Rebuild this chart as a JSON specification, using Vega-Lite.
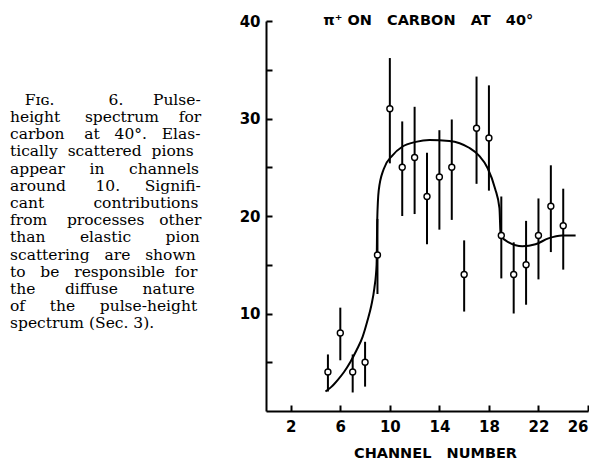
{
  "$schema": "https://vega.github.io/schema/vega-lite/v6.json",
  "background": "white",
  "padding": {"left": 10, "top": 13, "right": 0, "bottom": 0},
  "bounds": "flush",
  "spacing": 56,
  "config": {"view": {"stroke": null}, "font": "DejaVu Sans"},
  "datasets": {
    "caption": [
      {"line": 1, "text": "\u200b\u00a0\u00a0\u00a0Fɪɢ.\u00a0\u00a0\u00a0\u00a0\u00a0\u00a0\u00a0\u00a0\u00a0\u00a0\u00a06.\u00a0\u00a0\u00a0\u00a0\u00a0\u00a0Pulse-"},
      {"line": 2, "text": "height\u00a0\u00a0\u00a0\u00a0\u00a0spectrum\u00a0\u00a0\u00a0\u00a0for"},
      {"line": 3, "text": "carbon\u00a0\u00a0\u00a0\u00a0at\u00a0\u00a0\u00a040°.\u00a0\u00a0\u00a0Elas-"},
      {"line": 4, "text": "tically\u00a0\u00a0scattered\u00a0\u00a0pions"},
      {"line": 5, "text": "appear\u00a0\u00a0\u00a0\u00a0\u00a0in\u00a0\u00a0\u00a0\u00a0\u00a0channels"},
      {"line": 6, "text": "around\u00a0\u00a0\u00a0\u00a0\u00a0\u00a010.\u00a0\u00a0\u00a0\u00a0\u00a0Signifi-"},
      {"line": 7, "text": "cant\u00a0\u00a0\u00a0\u00a0\u00a0\u00a0\u00a0\u00a0\u00a0\u00a0contributions"},
      {"line": 8, "text": "from\u00a0\u00a0\u00a0\u00a0processes\u00a0\u00a0\u00a0other"},
      {"line": 9, "text": "than\u00a0\u00a0\u00a0\u00a0\u00a0\u00a0\u00a0elastic\u00a0\u00a0\u00a0\u00a0\u00a0\u00a0\u00a0pion"},
      {"line": 10, "text": "scattering\u00a0\u00a0\u00a0are\u00a0\u00a0\u00a0shown"},
      {"line": 11, "text": "to\u00a0\u00a0\u00a0be\u00a0\u00a0\u00a0responsible\u00a0\u00a0for"},
      {"line": 12, "text": "the\u00a0\u00a0\u00a0\u00a0\u00a0\u00a0diffuse\u00a0\u00a0\u00a0\u00a0\u00a0nature"},
      {"line": 13, "text": "of\u00a0\u00a0\u00a0\u00a0\u00a0the\u00a0\u00a0\u00a0\u00a0\u00a0pulse-height"},
      {"line": 14, "text": "spectrum (Sec. 3)."}
    ],
    "points": [
      {"channel": 5, "count": 4, "lo": 2.0, "hi": 5.8},
      {"channel": 6, "count": 8, "lo": 5.2, "hi": 10.6},
      {"channel": 7, "count": 4, "lo": 1.9, "hi": 5.8},
      {"channel": 8, "count": 5, "lo": 2.5, "hi": 7.1},
      {"channel": 9, "count": 16, "lo": 12.0, "hi": 19.7},
      {"channel": 10, "count": 31, "lo": 25.4, "hi": 36.2},
      {"channel": 11, "count": 25, "lo": 20.0, "hi": 29.7},
      {"channel": 12, "count": 26, "lo": 20.2, "hi": 31.2},
      {"channel": 13, "count": 22, "lo": 17.1, "hi": 26.5},
      {"channel": 14, "count": 24, "lo": 18.6, "hi": 28.8},
      {"channel": 15, "count": 25, "lo": 19.6, "hi": 29.9},
      {"channel": 16, "count": 14, "lo": 10.2, "hi": 17.5},
      {"channel": 17, "count": 29, "lo": 23.3, "hi": 34.3},
      {"channel": 18, "count": 28, "lo": 22.6, "hi": 33.4},
      {"channel": 19, "count": 18, "lo": 13.6, "hi": 22.0},
      {"channel": 20, "count": 14, "lo": 10.0, "hi": 17.3},
      {"channel": 21, "count": 15, "lo": 10.9, "hi": 19.5},
      {"channel": 22, "count": 18, "lo": 13.5, "hi": 21.8},
      {"channel": 23, "count": 21, "lo": 16.3, "hi": 25.2},
      {"channel": 24, "count": 19, "lo": 14.5, "hi": 22.8}
    ],
    "curve": [
      {"cx": 4.8, "cy": 2.0},
      {"cx": 5.3, "cy": 2.5},
      {"cx": 5.8, "cy": 3.2},
      {"cx": 6.3, "cy": 4.0},
      {"cx": 6.8, "cy": 5.0},
      {"cx": 7.3, "cy": 6.2},
      {"cx": 7.8, "cy": 7.6},
      {"cx": 8.2, "cy": 9.3},
      {"cx": 8.5, "cy": 10.8},
      {"cx": 8.75, "cy": 12.6},
      {"cx": 8.93, "cy": 15.0},
      {"cx": 8.98, "cy": 19.5},
      {"cx": 9.1, "cy": 22.6},
      {"cx": 9.5, "cy": 24.8},
      {"cx": 10.2, "cy": 26.2},
      {"cx": 11.0, "cy": 27.1},
      {"cx": 12.1, "cy": 27.6},
      {"cx": 13.2, "cy": 27.8},
      {"cx": 14.8, "cy": 27.7},
      {"cx": 16.4, "cy": 27.0},
      {"cx": 17.2, "cy": 26.2},
      {"cx": 17.9, "cy": 24.9},
      {"cx": 18.5, "cy": 22.8},
      {"cx": 18.85, "cy": 20.8},
      {"cx": 18.95, "cy": 18.0},
      {"cx": 19.6, "cy": 17.3},
      {"cx": 20.7, "cy": 16.9},
      {"cx": 21.76, "cy": 17.1},
      {"cx": 22.8, "cy": 17.7},
      {"cx": 23.9, "cy": 18.0},
      {"cx": 25.0, "cy": 18.0}
    ]
  },
  "hconcat": [
    {
      "width": 200,
      "height": 390,
      "data": {"name": "caption"},
      "mark": {"type": "text", "align": "left", "baseline": "middle", "font": "DejaVu Serif", "fontSize": 15.5, "color": "black"},
      "encoding": {
        "x": {"datum": 0, "type": "quantitative", "scale": {"domain": [0, 1]}, "axis": null},
        "y": {"field": "line", "type": "quantitative", "scale": {"domain": [-3.58, 19.09], "reverse": true, "nice": false, "zero": false}, "axis": null},
        "text": {"field": "text"}
      }
    },
    {
      "width": 322,
      "height": 390,
      "encoding": {
        "x": {
          "type": "quantitative",
          "scale": {"domain": [0, 26], "nice": false, "zero": false},
          "axis": {
            "values": [2, 6, 10, 14, 18, 22, 26],
            "title": "CHANNEL\u00a0\u00a0\u00a0NUMBER",
            "grid": false,
            "domainColor": "black", "domainWidth": 2,
            "tickColor": "black", "tickWidth": 2, "tickSize": -6,
            "labelPadding": 14, "labelFontSize": 15, "labelFontWeight": "bold", "labelColor": "black", "labelFont": "DejaVu Sans",
            "titleFont": "DejaVu Sans", "titleFontSize": 14.5, "titleFontWeight": "bold", "titleColor": "black", "titlePadding": 12, "titleX": 169
          }
        },
        "y": {
          "type": "quantitative",
          "scale": {"domain": [0, 40], "nice": false, "zero": false},
          "axis": {
            "values": [5, 10, 15, 20, 25, 30, 35, 40],
            "labelExpr": "datum.value % 10 === 0 ? datum.label : ''",
            "title": null,
            "grid": false,
            "domainColor": "black", "domainWidth": 2,
            "tickColor": "black", "tickWidth": 2, "tickSize": -6,
            "labelPadding": 12, "labelFontSize": 15, "labelFontWeight": "bold", "labelColor": "black", "labelFont": "DejaVu Sans"
          }
        }
      },
      "layer": [
        {
          "data": {"name": "curve"},
          "mark": {"type": "line", "interpolate": "monotone", "color": "black", "strokeWidth": 2},
          "encoding": {
            "x": {"field": "cx", "type": "quantitative"},
            "y": {"field": "cy", "type": "quantitative"}
          }
        },
        {
          "data": {"name": "points"},
          "mark": {"type": "rule", "color": "black", "strokeWidth": 2},
          "encoding": {
            "x": {"field": "channel", "type": "quantitative"},
            "y": {"field": "lo", "type": "quantitative"},
            "y2": {"field": "hi"}
          }
        },
        {
          "data": {"name": "points"},
          "mark": {"type": "point", "shape": "circle", "filled": false, "fill": "white", "fillOpacity": 1, "stroke": "black", "strokeWidth": 1.4, "opacity": 1, "size": 36},
          "encoding": {
            "x": {"field": "channel", "type": "quantitative"},
            "y": {"field": "count", "type": "quantitative"}
          }
        },
        {
          "data": {"values": [{"label": "π⁺ ON\u00a0\u00a0\u00a0CARBON\u00a0\u00a0\u00a0AT\u00a0\u00a0\u00a040°"}]},
          "mark": {"type": "text", "align": "center", "baseline": "middle", "font": "DejaVu Sans", "fontSize": 14.5, "fontWeight": "bold", "color": "black"},
          "encoding": {
            "x": {"datum": 13.1, "type": "quantitative"},
            "y": {"datum": 40, "type": "quantitative"},
            "text": {"field": "label"}
          }
        }
      ]
    }
  ]
}
